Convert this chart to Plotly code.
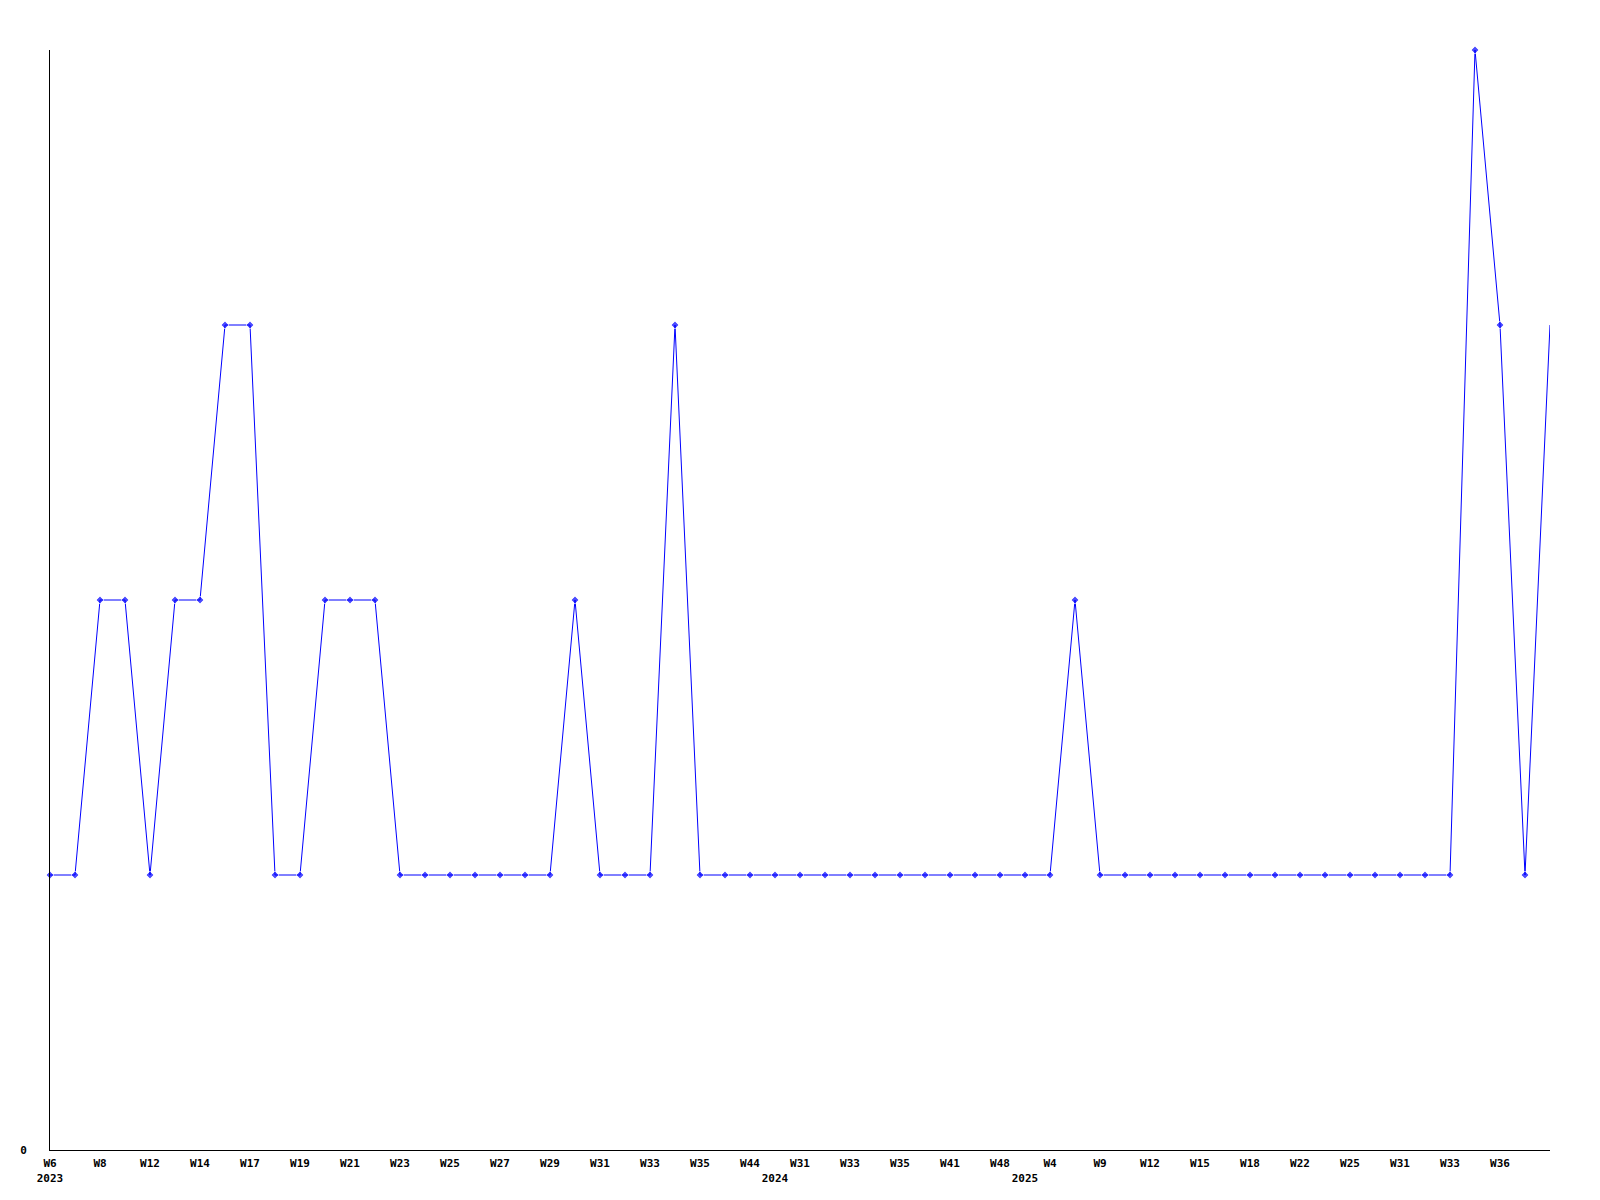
import plotly.graph_objects as go

# Weekly counts (one point per week, 61 weeks)
values = [1, 1, 2, 2, 1, 2, 2, 3, 3, 1,
          1, 2, 2, 2, 1, 1, 1, 1, 1, 1,
          1, 2, 1, 1, 1, 3, 1, 1, 1, 1,
          1, 1, 1, 1, 1, 1, 1, 1, 1, 1,
          1, 2, 1, 1, 1, 1, 1, 1, 1, 1,
          1, 1, 1, 1, 1, 1, 1, 4, 3, 1,
          3]

# Week labels shown on every second point
week_labels = ["W6", "W8", "W12", "W14", "W17", "W19", "W21", "W23", "W25", "W27",
               "W29", "W31", "W33", "W35", "W44", "W31", "W33", "W35", "W41", "W48",
               "W4", "W9", "W12", "W15", "W18", "W22", "W25", "W31", "W33", "W36"]

# Year labels and the point index where each year starts
year_labels = ["2023", "2024", "2025"]
year_points = [0, 29, 39]

x = list(range(len(values)))

tickvals = []
ticktext = []
for i in x:
    wk = week_labels[i // 2] if (i % 2 == 0 and i // 2 < len(week_labels)) else ""
    yr = year_labels[year_points.index(i)] if i in year_points else ""
    if wk or yr:
        tickvals.append(i)
        ticktext.append(f"<b>{wk}</b><br><b>{yr}</b>")

marker_sizes = [6] * (len(values) - 1) + [0]

fig = go.Figure()
fig.add_trace(go.Scatter(
    x=x, y=values, mode="lines+markers",
    line=dict(color="#0000ff", width=1),
    marker=dict(symbol="diamond", size=marker_sizes, color="#0000ff"),
    cliponaxis=False,
    hoverinfo="skip",
))

font = dict(family="DejaVu Sans Mono", size=11, color="black")

fig.update_layout(
    width=1600, height=1200,
    margin=dict(l=42, r=58, t=42, b=58),
    plot_bgcolor="white", paper_bgcolor="white",
    showlegend=False,
    xaxis=dict(
        range=[0, len(values) - 1],
        tickmode="array", tickvals=tickvals, ticktext=ticktext,
        tickangle=0, ticks="", showgrid=False, zeroline=False,
        showline=True, linecolor="black", linewidth=1,
        tickfont=font, ticklabelstandoff=3,
    ),
    yaxis=dict(
        range=[0, 4],
        tickmode="array", tickvals=[0], ticktext=["<b>0</b>"],
        ticks="", showgrid=False, zeroline=False,
        showline=True, linecolor="black", linewidth=1,
        tickfont=font, ticklabelstandoff=20,
    ),
)

fig.write_html("out.html")
